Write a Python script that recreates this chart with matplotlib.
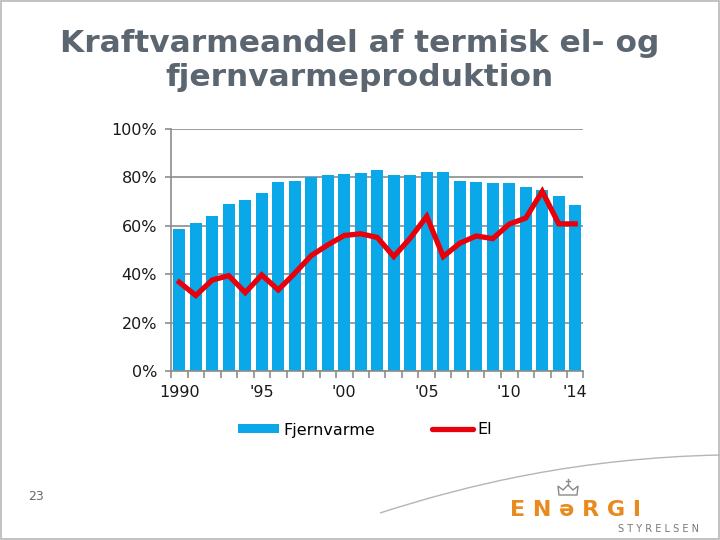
import matplotlib
matplotlib.use("Agg")
import matplotlib.pyplot as plt
from matplotlib.patches import Rectangle, PathPatch, Polygon
from matplotlib.path import Path
from matplotlib.lines import Line2D
from matplotlib.patches import Patch

years = list(range(1990, 2015))
fjernvarme = [58.7, 61.2, 63.9, 69.2, 70.6, 73.6, 78.0, 78.6, 80.0, 81.1, 81.6,
              81.7, 83.0, 81.1, 81.1, 82.3, 82.3, 78.6, 78.0, 77.5, 77.5, 76.1,
              74.8, 72.4, 68.7]
el = [36.7, 31.2, 37.6, 39.4, 32.4, 39.7, 33.5, 40.4, 47.7, 52.1, 56.0,
      56.7, 55.2, 47.3, 54.9, 63.9, 47.3, 52.8, 55.8, 54.7, 60.7, 63.2,
      74.2, 60.8, 60.8]
xtick_labels = {1990: "1990", 1995: "'95", 2000: "'00", 2005: "'05", 2010: "'10", 2014: "'14"}
ytick_vals = [0, 20, 40, 60, 80, 100]
title_lines = ["Kraftvarmeandel af termisk el- og", "fjernvarmeproduktion"]

BLUE = "#0aa8e8"
RED = "#e8000b"
W, H = 720, 540

def fx(px):
    return px / W

def fy(py):
    return 1 - py / H

fig = plt.figure(figsize=(7.2, 5.4), dpi=100)
fig.patch.set_facecolor("white")

# slide border
fig.add_artist(Rectangle((0.001, 0.001), 0.998, 0.998, transform=fig.transFigure,
                         fill=False, edgecolor="#b8b8b8", linewidth=1.2))

# decorative curve near logo
curve = Path([(fx(380), fy(513)), (fx(470), fy(484)), (fx(580), fy(458)), (fx(720), fy(455))],
             [Path.MOVETO, Path.CURVE4, Path.CURVE4, Path.CURVE4])
fig.add_artist(PathPatch(curve, transform=fig.transFigure, fill=False,
                         edgecolor="#b5b5b5", linewidth=1.0))

fig.text(0.5, fy(43), title_lines[0], ha="center", va="center", fontsize=22.5,
         fontweight="bold", color="#5b6670")
fig.text(0.5, fy(78), title_lines[1], ha="center", va="center", fontsize=22.5,
         fontweight="bold", color="#5b6670")

ax = fig.add_axes([fx(171), fy(371), (583.5 - 171) / W, (371 - 129) / H])
x = list(range(len(years)))
ax.bar(x, fjernvarme, width=0.72, color=BLUE, zorder=2)
ax.plot(x, el, color=RED, linewidth=3.8, solid_joinstyle="miter", zorder=3)

ax.set_xlim(-0.5, len(years) - 0.5)
ax.set_ylim(0, 100)
ax.set_yticks(ytick_vals)
ax.set_yticklabels([f"{v}%" for v in ytick_vals], fontsize=11.5, color="#1a1a1a")
ax.yaxis.grid(True, color="#8c8c8c", linewidth=1.2, zorder=0)
ax.set_axisbelow(True)

pos = [years.index(y) for y in xtick_labels]
ax.set_xticks(pos)
ax.set_xticklabels(list(xtick_labels.values()), fontsize=11.5, color="#1a1a1a")
ax.set_xticks([i - 0.5 for i in range(len(years) + 1)], minor=True)
ax.tick_params(axis="x", which="major", length=0, pad=10)
ax.tick_params(axis="x", which="minor", length=5, color="#8c8c8c", width=1.2, direction="out")
ax.tick_params(axis="y", length=4, color="#8c8c8c", width=1.2, pad=6)

for s in ["top", "right"]:
    ax.spines[s].set_visible(False)
for s in ["left", "bottom"]:
    ax.spines[s].set_color("#8c8c8c")
    ax.spines[s].set_linewidth(1.2)

handles = [Patch(facecolor=BLUE, edgecolor="none"),
           Line2D([0], [0], color=RED, linewidth=3.8, solid_capstyle="round")]
fig.legend(handles, ["Fjernvarme", "El"], loc="center", bbox_to_anchor=(fx(365), fy(430)),
           ncol=2, frameon=False, fontsize=11.5, handlelength=2.6, handleheight=0.5,
           columnspacing=3.5, handletextpad=0.3)

fig.text(fx(36), fy(497), "23", fontsize=9, color="#6a6a6a", ha="center", va="center")

# logo
fig.text(fx(575), fy(510), "E N \u0259 R G I", fontsize=16, fontweight="bold", color="#e88a1e",
         ha="center", va="center")
fig.text(fx(658), fy(529), "S T Y R E L S E N", fontsize=7, color="#777777",
         ha="center", va="center")
crown = Polygon([(fx(559), fy(495)), (fx(577), fy(495)), (fx(578), fy(486)),
                 (fx(573), fy(490)), (fx(568), fy(485)), (fx(563), fy(490)),
                 (fx(558), fy(486))], closed=True, transform=fig.transFigure,
                facecolor="none", edgecolor="#8a8a8a", linewidth=1.0)
fig.add_artist(crown)
fig.add_artist(Line2D([fx(568), fx(568)], [fy(485), fy(479)], transform=fig.transFigure,
                      color="#8a8a8a", linewidth=1.0))
fig.add_artist(Line2D([fx(566), fx(570)], [fy(481), fy(481)], transform=fig.transFigure,
                      color="#8a8a8a", linewidth=1.0))

fig.savefig("out.png", dpi=100)
